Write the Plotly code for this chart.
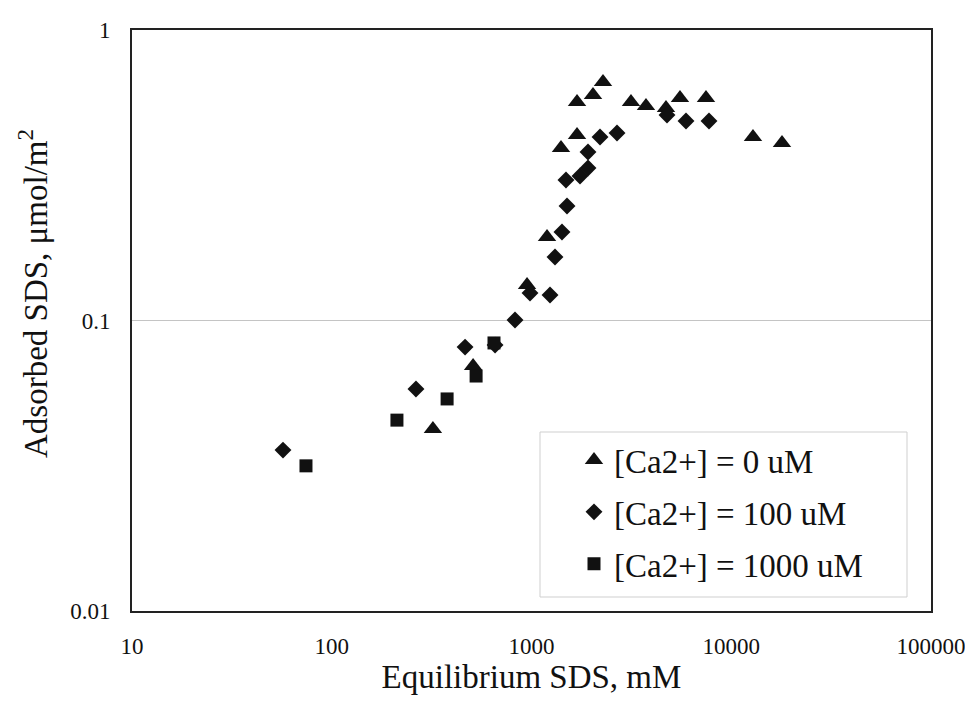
import plotly.graph_objects as go

# ---- data ----
x_ca0 = [321, 510, 950, 1196, 1405, 1690, 1690, 2032, 2280, 3148, 3742, 4713, 5538, 7474, 12848, 17950]
y_ca0 = [0.0423, 0.0697, 0.1325, 0.1938, 0.3925, 0.435, 0.565, 0.597, 0.662, 0.565, 0.547, 0.539, 0.583, 0.583, 0.428, 0.408]

x_ca100 = [57, 264, 465, 657, 827, 983, 1238, 1311, 1421, 1506, 1488, 1749, 1918, 1918, 2203, 2680, 4768, 5936, 7739]
y_ca100 = [0.0358, 0.0581, 0.0810, 0.0823, 0.1004, 0.1243, 0.1224, 0.1654, 0.2017, 0.2478, 0.3046, 0.3144, 0.335, 0.380, 0.428, 0.442, 0.510, 0.486, 0.486]

x_ca1000 = [74.3, 212, 378, 528, 649]
y_ca1000 = [0.0316, 0.0454, 0.0537, 0.0644, 0.0837]

series_names = ["[Ca2+] = 0 uM", "[Ca2+] = 100 uM", "[Ca2+] = 1000 uM"]
x_ticks = [10, 100, 1000, 10000, 100000]
x_tick_labels = ["10", "100", "1000", "10000", "100000"]
y_ticks = [0.01, 0.1, 1]
y_tick_labels = ["0.01", "0.1", "1"]

FONT = "Liberation Serif, Times New Roman, serif"
INK = "#111111"

fig = go.Figure()
fig.add_trace(go.Scatter(x=x_ca0, y=y_ca0, mode="markers", name=series_names[0],
                         legendgroup="a",
                         marker=dict(symbol="triangle-up", size=16, color=INK)))
fig.add_trace(go.Scatter(x=x_ca100, y=y_ca100, mode="markers", name=series_names[1],
                         legendgroup="b",
                         marker=dict(symbol="diamond", size=13, color=INK)))
fig.add_trace(go.Scatter(x=x_ca1000, y=y_ca1000, mode="markers", name=series_names[2],
                         legendgroup="c",
                         marker=dict(symbol="square", size=13, color=INK)))

# page has the browser's default 8px body margin; compensate
OFF = 8
W, H = 973 - OFF, 705 - OFF
# frame in page pixels: left 132, right 931, top 30, bottom 611
L, T = 132 - OFF, 30 - OFF
R = W - (931 - OFF)
B = H - (611 - OFF)
pw, ph = W - L - R, H - T - B

def px(xp):  # page pixel -> paper fraction
    return (xp - OFF - L) / pw

def py(yp):
    return (H - B - (yp - OFF)) / ph

fig.update_layout(
    width=W, height=H,
    margin=dict(l=L, r=R, t=T, b=B, autoexpand=False),
    paper_bgcolor="white", plot_bgcolor="white",
    font=dict(family=FONT, color=INK),
    showlegend=True,
    legend=dict(
        x=px(574), y=py(432), xanchor="left", yanchor="top",
        bgcolor="rgba(0,0,0,0)", borderwidth=0,
        font=dict(family=FONT, size=33, color=INK),
        tracegroupgap=6,
        itemsizing="trace",
    ),
    xaxis=dict(
        type="log", range=[1, 5], automargin=False,
        tickvals=x_ticks, ticktext=x_tick_labels,
        showgrid=False, zeroline=False,
        showline=True, linecolor="#222222", linewidth=2, mirror=True,
        ticks="", ticklabelstandoff=13,
        tickfont=dict(family=FONT, size=23, color=INK),
        title=dict(text="Equilibrium SDS, mM", standoff=4,
                   font=dict(family=FONT, size=33, color=INK)),
    ),
    yaxis=dict(
        type="log", range=[-2, 0], automargin=False,
        tickvals=y_ticks, ticktext=y_tick_labels,
        showgrid=True, gridcolor="#c4c4c4", gridwidth=1,
        zeroline=False,
        showline=True, linecolor="#222222", linewidth=2, mirror=True,
        ticks="", ticklabelstandoff=15,
        tickfont=dict(family=FONT, size=23, color=INK),
    ),
    annotations=[dict(
        text="Adsorbed SDS, μmol/m<sup>2</sup>",
        xref="paper", yref="paper", x=px(33), y=py(294),
        xanchor="center", yanchor="middle", textangle=-90, showarrow=False,
        font=dict(family=FONT, size=33, color=INK),
    )],
    shapes=[dict(
        type="rect", xref="paper", yref="paper",
        x0=px(540), x1=px(907), y0=py(597), y1=py(432),
        line=dict(color="#cfcfcf", width=1), fillcolor="rgba(0,0,0,0)",
        layer="below",
    )],
)

fig.write_html("out.html")
